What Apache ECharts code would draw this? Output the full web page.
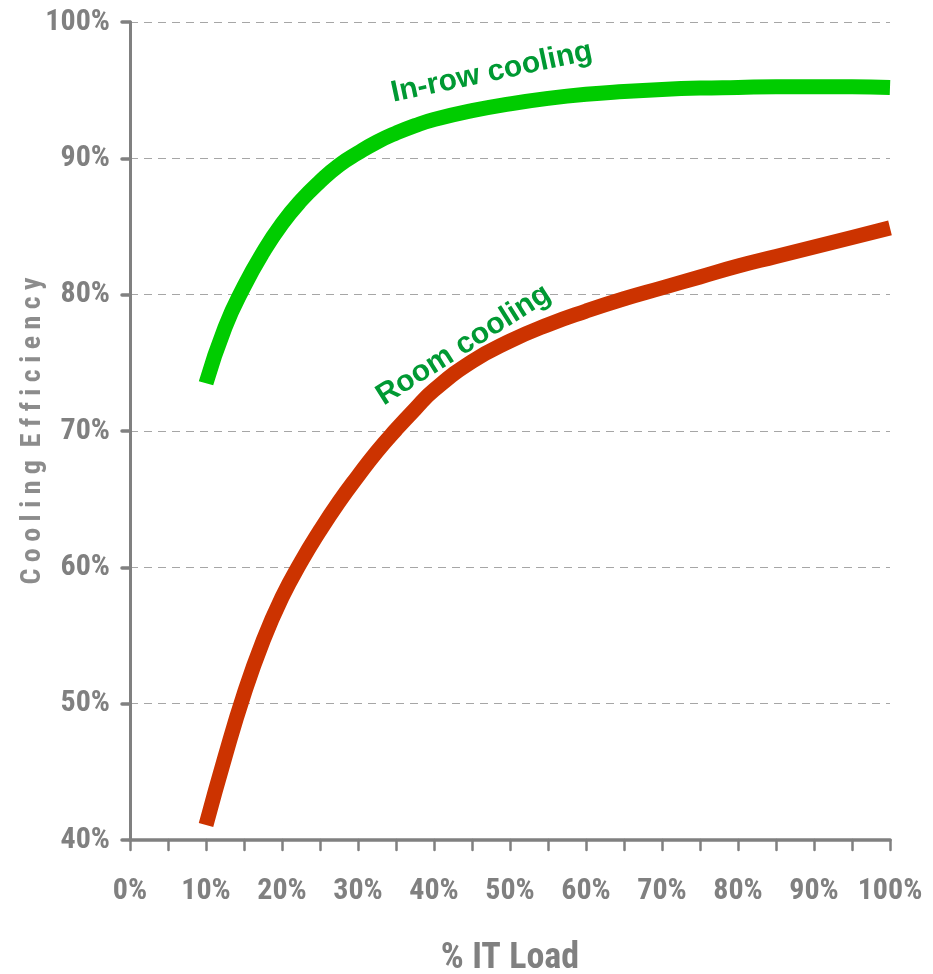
<!DOCTYPE html>
<html>
<head>
<meta charset="utf-8">
<script src="https://cdn.jsdelivr.net/npm/echarts@6/dist/echarts.min.js"></script>
<style>
html,body{margin:0;padding:0;background:#fff;}
#chart{width:933px;height:974px;}
</style>
</head>
<body>
<div id="chart"></div>
<script>
// % IT load (x) and cooling efficiency (y), in percent
const loadPts   = [10, 12.5, 15, 17.5, 20, 22.5, 25, 27.5, 30, 32.5, 35, 37.5, 40, 45, 50, 55, 60, 65, 70, 75, 80, 85, 90, 95, 100];
const inRowEff  = [73.5, 77.6, 80.6, 83.1, 85.2, 86.9, 88.3, 89.5, 90.4, 91.2, 91.85, 92.4, 92.85, 93.5, 94.0, 94.4, 94.7, 94.9, 95.05, 95.15, 95.2, 95.25, 95.25, 95.25, 95.2];
const roomEff   = [41.1, 46.1, 50.7, 54.6, 57.8, 60.4, 62.7, 64.8, 66.7, 68.5, 70.1, 71.6, 73.0, 75.1, 76.6, 77.8, 78.8, 79.7, 80.5, 81.3, 82.1, 82.8, 83.5, 84.2, 84.9];
const xTicks = [0, 100, 10];   // min, max, interval
const yTicks = [40, 100, 10];
const seriesNames = ['In-row cooling', 'Room cooling'];
const labelAnchors = [[47.6, 96.3, 12], [43.9, 76.3, 32.5]]; // data coords + rotation (deg, counter-clockwise)

const narrow = "'Roboto Condensed','Liberation Sans Narrow','Arial Narrow','DejaVu Sans Condensed',sans-serif";
const gray = '#808080';
const chart = echarts.init(document.getElementById('chart'));
const zip = (a, b) => a.map((v, i) => [v, b[i]]);

chart.setOption({
  animation: false,
  backgroundColor: '#fff',
  grid: {left: 130, right: 43, top: 22, bottom: 134, containLabel: false, outerBoundsMode: 'none'},
  xAxis: {
    type: 'value', min: xTicks[0], max: xTicks[1], interval: xTicks[2],
    name: '% IT Load', nameLocation: 'middle', nameGap: 101, nameMoveOverlap: false,
    nameTextStyle: {fontFamily: narrow, fontWeight: 'bold', fontSize: 36, color: gray},
    axisLine: {show: true, lineStyle: {color: gray, width: 3.5, cap: 'round'}},
    axisTick: {show: true, length: 10, lineStyle: {color: gray, width: 2.5, cap: 'round'}},
    minorTick: {show: true, splitNumber: 2, length: 10, lineStyle: {color: gray, width: 2.5, cap: 'round'}},
    splitLine: {show: false},
    axisLabel: {margin: 36, fontFamily: narrow, fontWeight: 'bold', fontSize: 30, color: gray,
      formatter: v => v + '%'}
  },
  yAxis: {
    type: 'value', min: yTicks[0], max: yTicks[1], interval: yTicks[2],
    name: 'C o o l i n g  E f f i c i e n c y', nameLocation: 'middle', nameGap: 83, nameRotate: 90,
    nameMoveOverlap: false,
    nameTextStyle: {fontFamily: narrow, fontWeight: 'bold', fontSize: 28, color: '#8c8c8c'},
    axisLine: {show: true, lineStyle: {color: gray, width: 3, cap: 'round'}},
    axisTick: {show: true, length: 8, lineStyle: {color: gray, width: 3.5, cap: 'round'}},
    splitLine: {show: true, lineStyle: {color: '#a6a6a6', width: 1, type: [8, 6]}},
    axisLabel: {margin: 20, fontFamily: narrow, fontWeight: 'bold', fontSize: 30, color: gray,
      formatter: v => v + '%'}
  },
  series: [
    {name: seriesNames[0], type: 'line', smooth: 0.5, symbol: 'none',
     data: zip(loadPts, inRowEff), lineStyle: {color: '#00CC00', width: 15, cap: 'butt'}},
    {name: seriesNames[1], type: 'line', smooth: 0.5, symbol: 'none',
     data: zip(loadPts, roomEff), lineStyle: {color: '#CC3300', width: 15, cap: 'butt'}}
  ]
});

const texts = labelAnchors.map((a, i) => {
  const p = chart.convertToPixel({gridIndex: 0}, [a[0], a[1]]);
  return {
    type: 'text', x: p[0], y: p[1], rotation: a[2] * Math.PI / 180,
    style: {text: seriesNames[i], fill: '#009933', fontFamily: "'Liberation Sans',Arial,sans-serif",
      fontWeight: 'bold', fontSize: 30, align: 'center', verticalAlign: 'middle'}
  };
});
chart.setOption({graphic: texts});
</script>
</body>
</html>
